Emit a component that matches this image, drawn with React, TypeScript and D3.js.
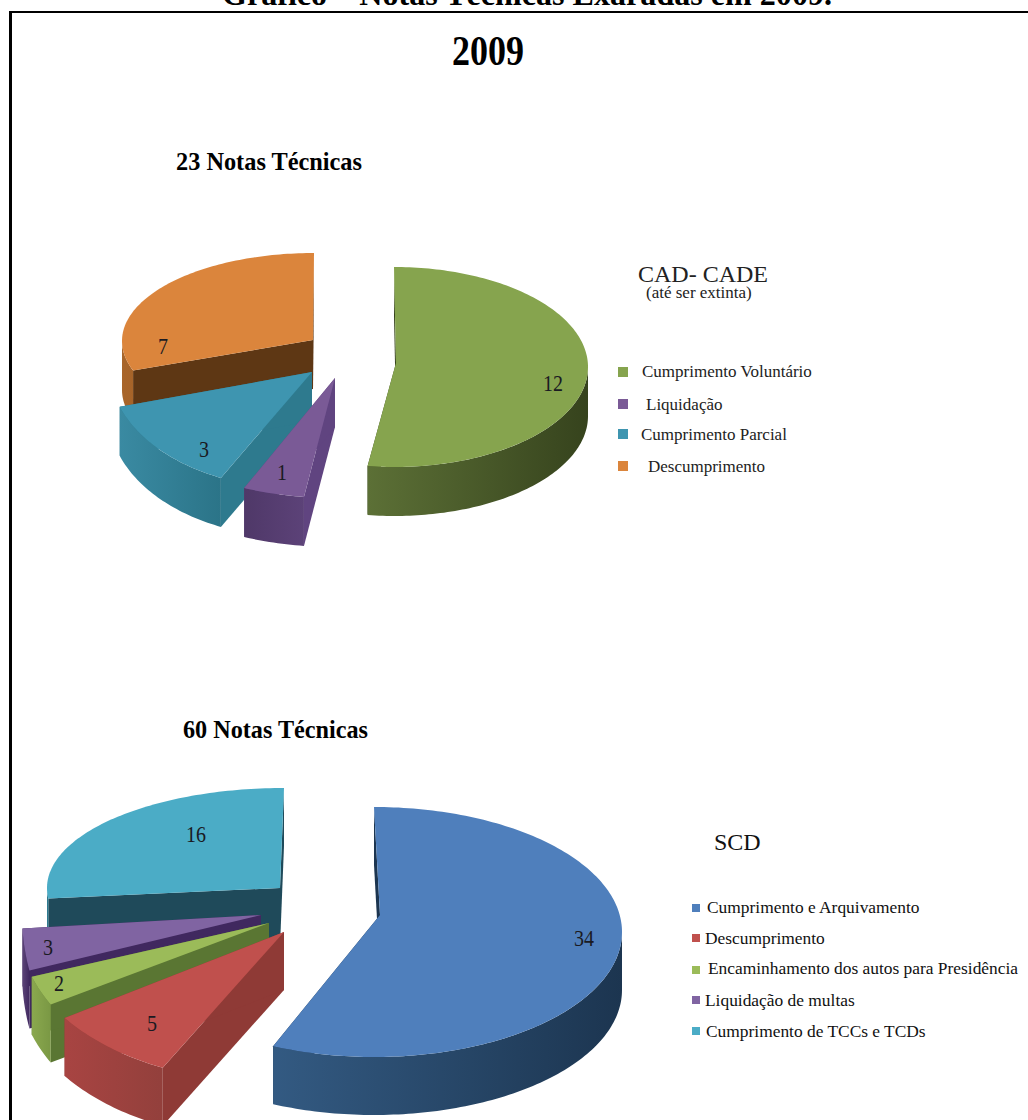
import React from "react";
import * as d3 from "d3";

// ---------- data ----------
const cadLabels = ["Cumprimento Voluntário", "Liquidação", "Cumprimento Parcial", "Descumprimento"];
const cadValues = [12, 1, 3, 7];
const scdLabels = ["Cumprimento e Arquivamento", "Descumprimento", "Encaminhamento dos autos para Presidência", "Liquidação de multas", "Cumprimento de TCCs e TCDs"];
const scdValues = [34, 5, 2, 3, 16];

// ---------- styles and layout ----------
type Geo = { cx: number; cy: number; rx: number; ry: number; ax: number; ay: number; lx: number; ly: number };
type Paint = { top: string; rimA: string; rimB: string; cut: string };

const cadGeo: Geo[] = [
  { cx: 394, cy: 367, rx: 194, ry: 100, ax: 396, ay: 363, lx: 553, ly: 383 },
  { cx: 335, cy: 378, rx: 228, ry: 120, ax: 335, ay: 378, lx: 282, ly: 472 },
  { cx: 295, cy: 366, rx: 186, ry: 122, ax: 312, ay: 372, lx: 204, ly: 449 },
  { cx: 314, cy: 341, rx: 192, ry: 88, ax: 313, ay: 340, lx: 163, ly: 346 },
];
const cadPaint: Paint[] = [
  { top: "#86a44e", rimA: "#5c7036", rimB: "#36431d", cut: "#36431d" },
  { top: "#7a5a96", rimA: "#4f3868", rimB: "#5c4278", cut: "#604480" },
  { top: "#3e95b0", rimA: "#3a8aa2", rimB: "#2b7488", cut: "#2e7a8e" },
  { top: "#db853c", rimA: "#a8652a", rimB: "#8a5220", cut: "#5e3714" },
];
const scdGeo: Geo[] = [
  { cx: 374, cy: 932, rx: 248, ry: 125, ax: 380, ay: 915, lx: 584, ly: 938 },
  { cx: 262, cy: 928, rx: 244, ry: 153, ax: 284, ay: 932, lx: 152, ly: 1023 },
  { cx: 198, cy: 914, rx: 182, ry: 154, ax: 269, ay: 923, lx: 59, ly: 983 },
  { cx: 108, cy: 914, rx: 86, ry: 139, ax: 261, ay: 915, lx: 48, ly: 947 },
  { cx: 284, cy: 888, rx: 237, ry: 100, ax: 280, ay: 888, lx: 196, ly: 834 },
];
const scdPaint: Paint[] = [
  { top: "#4f7fbc", rimA: "#335a82", rimB: "#1c3550", cut: "#1c3550" },
  { top: "#c0504d", rimA: "#a84442", rimB: "#93403c", cut: "#8f3a36" },
  { top: "#9bbb59", rimA: "#8aa84e", rimB: "#7a9844", cut: "#5a7633" },
  { top: "#8064a2", rimA: "#5c4478", rimB: "#40285f", cut: "#40285f" },
  { top: "#4bacc6", rimA: "#2d7a90", rimB: "#2d7a90", cut: "#1f4a5a" },
];

const serif = "'Liberation Serif', 'Times New Roman', serif";
const pie = d3.pie<number>().sort(null).value((d) => d);
const line = d3.line<[number, number]>();

function rimPoint(g: Geo, t: number): [number, number] {
  return [g.cx + g.rx * Math.sin(t), g.cy - g.ry * Math.cos(t)];
}
function sweep(a: number, b: number): number[] {
  const n = Math.max(2, Math.ceil((b - a) / 0.02));
  return d3.range(n + 1).map((i) => a + ((b - a) * i) / n);
}

function Slice({ id, value, arc, g, p, depth, textColor }: any) {
  const { startAngle: a0, endAngle: a1 } = arc;
  const rim = sweep(a0, a1).map((t) => rimPoint(g, t));
  const apex: [number, number] = [g.ax, g.ay];
  const down = (q: [number, number]): [number, number] => [q[0], q[1] + depth];
  const cutFace = (q: [number, number]) => line([apex, q, down(q), down(apex)]) + "Z";
  const lo = Math.max(a0, Math.PI / 2);
  const hi = Math.min(a1, (3 * Math.PI) / 2);
  let wall: string | null = null;
  if (hi > lo) {
    const pts = sweep(lo, hi).map((t) => rimPoint(g, t));
    wall = line([...pts, ...pts.slice().reverse().map(down)]) + "Z";
  }
  const xs = rim.map((q) => q[0]);
  const label = String(value);
  return (
    <g>
      <defs>
        <linearGradient id={id} gradientUnits="userSpaceOnUse" x1={d3.min(xs)} x2={d3.max(xs)} y1={0} y2={0}>
          <stop offset="0" stopColor={p.rimA} />
          <stop offset="1" stopColor={p.rimB} />
        </linearGradient>
      </defs>
      <path d={cutFace(rim[0])} fill={p.cut} />
      <path d={cutFace(rim[rim.length - 1])} fill={p.cut} />
      {wall && <path d={wall} fill={`url(#${id})`} />}
      <path d={line([apex, ...rim]) + "Z"} fill={p.top} />
      <text x={g.lx} y={g.ly} textAnchor="middle" dominantBaseline="central" fontSize={24} textLength={label.length * 10} lengthAdjust="spacingAndGlyphs" fontFamily={serif} fill={textColor}>
        {label}
      </text>
    </g>
  );
}

function Pie3D({ name, values, geo, paint, depth, order }: any) {
  const arcs = pie(values);
  return (
    <g>
      {order.map((i: number) => (
        <Slice key={i} id={`${name}${i}`} value={values[i]} arc={arcs[i]} g={geo[i]} p={paint[i]} depth={depth} textColor="#1a1a22" />
      ))}
    </g>
  );
}

const cadLegend = [
  { x: 642, y: 377, sy: 372 },
  { x: 646, y: 410, sy: 404 },
  { x: 641, y: 440, sy: 434 },
  { x: 648, y: 472, sy: 466 },
];
const scdLegend = [
  { x: 707, y: 913, sy: 908 },
  { x: 705, y: 944, sy: 938 },
  { x: 708, y: 974, sy: 970 },
  { x: 705, y: 1006, sy: 1000 },
  { x: 706, y: 1037, sy: 1031 },
];

export default function App() {
  return (
    <svg width={1028} height={1120} viewBox="0 0 1028 1120" style={{ position: "absolute", left: 0, top: 0, background: "#fff" }}>
      <text x={527} y={4.5} textAnchor="middle" fontFamily={serif} fontWeight="bold" fontSize={32} textLength={610} lengthAdjust="spacingAndGlyphs" fill="#000">
        Gráfico – Notas Técnicas Exaradas em 2009.
      </text>
      <line x1={9} x2={1028} y1={12} y2={12} stroke="#000" strokeWidth={2.2} />
      <line x1={10.5} x2={10.5} y1={11} y2={1120} stroke="#000" strokeWidth={3} />
      <text x={488} y={65} textAnchor="middle" fontFamily={serif} fontWeight="bold" fontSize={42} textLength={72} lengthAdjust="spacingAndGlyphs" fill="#000">2009</text>
      <text x={176} y={170} fontFamily={serif} fontWeight="bold" fontSize={26} textLength={186} lengthAdjust="spacingAndGlyphs" fill="#000">23 Notas Técnicas</text>
      <text x={183} y={738} fontFamily={serif} fontWeight="bold" fontSize={26} textLength={185} lengthAdjust="spacingAndGlyphs" fill="#000">60 Notas Técnicas</text>

      <Pie3D name="cad" values={cadValues} geo={cadGeo} paint={cadPaint} depth={49} order={[0, 3, 2, 1]} />
      <Pie3D name="scd" values={scdValues} geo={scdGeo} paint={scdPaint} depth={58} order={[4, 3, 2, 1, 0]} />

      <text x={638} y={282} fontFamily={serif} fontSize={24} fill="#222">CAD- CADE</text>
      <text x={646} y={298} fontFamily={serif} fontSize={17} fill="#222">(até ser extinta)</text>
      {cadLabels.map((t, i) => (
        <g key={t}>
          <rect x={618} y={cadLegend[i].sy - 5} width={10} height={10} fill={cadPaint[i].top} />
          <text x={cadLegend[i].x} y={cadLegend[i].y} fontFamily={serif} fontSize={17} fill="#222">{t}</text>
        </g>
      ))}
      <text x={714} y={850} fontFamily={serif} fontSize={24} fill="#111">SCD</text>
      {scdLabels.map((t, i) => (
        <g key={t}>
          <rect x={692} y={scdLegend[i].sy - 4} width={8} height={8} fill={scdPaint[i].top} />
          <text x={scdLegend[i].x} y={scdLegend[i].y} fontFamily={serif} fontSize={17.4} fill="#111">{t}</text>
        </g>
      ))}
    </svg>
  );
}
